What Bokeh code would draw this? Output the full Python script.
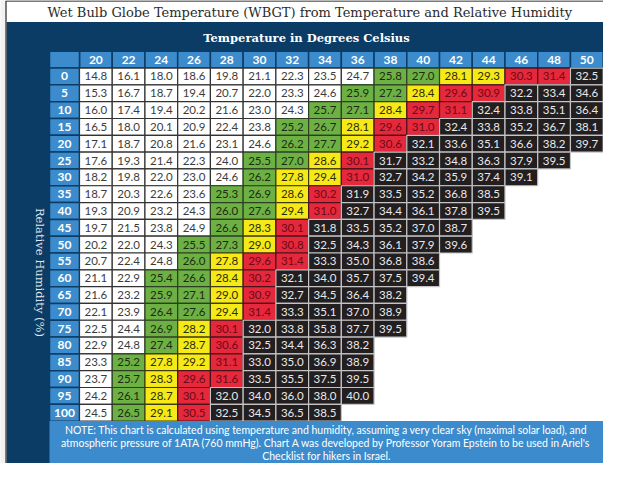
import math
from bokeh.plotting import figure
from bokeh.models import Range1d, ColumnDataSource
from bokeh.embed import file_html
from bokeh.resources import INLINE
from bokeh.core.properties import value

# ---------------- data ----------------
temperatures = [20, 22, 24, 26, 28, 30, 32, 34, 36, 38, 40, 42, 44, 46, 48, 50]
humidity = [0, 5, 10, 15, 20, 25, 30, 35, 40, 45, 50, 55, 60, 65, 70, 75, 80, 85, 90, 95, 100]

rh_0 = [14.8, 16.1, 18.0, 18.6, 19.8, 21.1, 22.3, 23.5, 24.7, 25.8, 27.0, 28.1, 29.3, 30.3, 31.4, 32.5]
rh_5 = [15.3, 16.7, 18.7, 19.4, 20.7, 22.0, 23.3, 24.6, 25.9, 27.2, 28.4, 29.6, 30.9, 32.2, 33.4, 34.6]
rh_10 = [16.0, 17.4, 19.4, 20.2, 21.6, 23.0, 24.3, 25.7, 27.1, 28.4, 29.7, 31.1, 32.4, 33.8, 35.1, 36.4]
rh_15 = [16.5, 18.0, 20.1, 20.9, 22.4, 23.8, 25.2, 26.7, 28.1, 29.6, 31.0, 32.4, 33.8, 35.2, 36.7, 38.1]
rh_20 = [17.1, 18.7, 20.8, 21.6, 23.1, 24.6, 26.2, 27.7, 29.2, 30.6, 32.1, 33.6, 35.1, 36.6, 38.2, 39.7]
rh_25 = [17.6, 19.3, 21.4, 22.3, 24.0, 25.5, 27.0, 28.6, 30.1, 31.7, 33.2, 34.8, 36.3, 37.9, 39.5]
rh_30 = [18.2, 19.8, 22.0, 23.0, 24.6, 26.2, 27.8, 29.4, 31.0, 32.7, 34.2, 35.9, 37.4, 39.1]
rh_35 = [18.7, 20.3, 22.6, 23.6, 25.3, 26.9, 28.6, 30.2, 31.9, 33.5, 35.2, 36.8, 38.5]
rh_40 = [19.3, 20.9, 23.2, 24.3, 26.0, 27.6, 29.4, 31.0, 32.7, 34.4, 36.1, 37.8, 39.5]
rh_45 = [19.7, 21.5, 23.8, 24.9, 26.6, 28.3, 30.1, 31.8, 33.5, 35.2, 37.0, 38.7]
rh_50 = [20.2, 22.0, 24.3, 25.5, 27.3, 29.0, 30.8, 32.5, 34.3, 36.1, 37.9, 39.6]
rh_55 = [20.7, 22.4, 24.8, 26.0, 27.8, 29.6, 31.4, 33.3, 35.0, 36.8, 38.6]
rh_60 = [21.1, 22.9, 25.4, 26.6, 28.4, 30.2, 32.1, 34.0, 35.7, 37.5, 39.4]
rh_65 = [21.6, 23.2, 25.9, 27.1, 29.0, 30.9, 32.7, 34.5, 36.4, 38.2]
rh_70 = [22.1, 23.9, 26.4, 27.6, 29.4, 31.4, 33.3, 35.1, 37.0, 38.9]
rh_75 = [22.5, 24.4, 26.9, 28.2, 30.1, 32.0, 33.8, 35.8, 37.7, 39.5]
rh_80 = [22.9, 24.8, 27.4, 28.7, 30.6, 32.5, 34.4, 36.3, 38.2]
rh_85 = [23.3, 25.2, 27.8, 29.2, 31.1, 33.0, 35.0, 36.9, 38.9]
rh_90 = [23.7, 25.7, 28.3, 29.6, 31.6, 33.5, 35.5, 37.5, 39.5]
rh_95 = [24.2, 26.1, 28.7, 30.1, 32.0, 34.0, 36.0, 38.0, 40.0]
rh_100 = [24.5, 26.5, 29.1, 30.5, 32.5, 34.5, 36.5, 38.5]

wbgt_rows = [rh_0, rh_5, rh_10, rh_15, rh_20, rh_25, rh_30, rh_35, rh_40, rh_45,
             rh_50, rh_55, rh_60, rh_65, rh_70, rh_75, rh_80, rh_85, rh_90, rh_95, rh_100]

title_text = "Wet Bulb Globe Temperature (WBGT) from Temperature and Relative Humidity"
subtitle_text = "Temperature in Degrees Celsius"
ylabel_text = "Relative Humidity (%)"
note_lines = [
    "NOTE: This chart is calculated using temperature and humidity, assuming a very clear sky (maximal solar load), and",
    "atmospheric pressure of 1ATA (760 mmHg). Chart A was developed by Professor Yoram Epstein to be used in Ariel's",
    "Checklist for hikers in Israel.",
]

# colour classes (WBGT thresholds)
class_edges = [25.0, 27.8, 29.6, 31.7]
fills = ["#ffffff", "#6db144", "#f5ea17", "#e5283c", "#231f20"]
text_cols = ["#3c3c3c", "#1d2a14", "#2e2b06", "#6a0b16", "#e9e9e9"]
line_cols = ["#333333", "#2d3f22", "#3f3b12", "#4b1219", "#c4c4c4"]

NAVY = "#0b3c66"
BLUE = "#3c8bcc"

def wclass(v):
    k = 0
    for e in class_edges:
        if v >= e:
            k += 1
    return k

# ---------------- figure ----------------
p = figure(width=603, height=463, x_range=Range1d(16, 619), y_range=Range1d(479, 4),
           output_backend="svg", toolbar_location=None, min_border=0,
           x_axis_location=None, y_axis_location=None,
           background_fill_color="#f2f2f2", border_fill_color="#f2f2f2",
           outline_line_color=None)
p.grid.visible = False

# temperature / humidity scales for the table
px_per_deg = 32.73 / 2.0
px_per_pct = 17.25 / 5.0
p.extra_x_ranges = {"temp": Range1d(19 - (95 - 16) / px_per_deg, 19 + (619 - 95) / px_per_deg)}
p.extra_y_ranges = {"rh": Range1d(102.5 + (479 - 435.55) / px_per_pct, -2.5 - (73.3 - 4) / px_per_pct)}
T = dict(x_range_name="temp", y_range_name="rh")

# panels
p.quad(left=[22], right=[619], top=[26], bottom=[479], fill_color=NAVY, line_color=None)
p.quad(left=[22], right=[619], top=[4.5], bottom=[26], fill_color="white", line_color=None)
p.line(x=[21.5, 21.5, 619], y=[479, 4.5, 4.5], line_color="#505050", line_width=1.5)

# table body background
p.quad(left=[19], right=[51], top=[-2.5], bottom=[102.5], fill_color="white", line_color=None, **T)

step_t = temperatures[1] - temperatures[0]
step_h = humidity[1] - humidity[0]
lab_w = 30 / px_per_deg
lab_x = temperatures[0] - step_t / 2 - lab_w / 2

# header cells
p.rect(x=temperatures, y=[humidity[0] - step_h] * len(temperatures), width=step_t, height=step_h,
       fill_color=BLUE, line_color=NAVY, line_width=1.5, **T)
p.rect(x=[lab_x], y=[humidity[0] - step_h], width=lab_w, height=step_h,
       fill_color=BLUE, line_color=NAVY, line_width=1.5, **T)
p.rect(x=[lab_x] * len(humidity), y=humidity, width=lab_w, height=step_h,
       fill_color=BLUE, line_color=NAVY, line_width=1.5, **T)

# data cells
xs, ys, vals, fc, tc, lc, cls = [], [], [], [], [], [], []
for h, row in zip(humidity, wbgt_rows):
    for t, v in zip(temperatures, row):
        k = wclass(v)
        xs.append(t); ys.append(h); vals.append(f"{v:.1f}")
        fc.append(fills[k]); tc.append(text_cols[k]); lc.append(line_cols[k]); cls.append(k)

for group in ([0, 1, 2, 3], [4]):
    idx = [i for i in range(len(xs)) if cls[i] in group]
    src = ColumnDataSource(dict(x=[xs[i] for i in idx], y=[ys[i] for i in idx],
                                v=[vals[i] for i in idx], fc=[fc[i] for i in idx],
                                tc=[tc[i] for i in idx], lc=[lc[i] for i in idx]))
    p.rect(x="x", y="y", width=step_t, height=step_h, fill_color="fc", line_color="lc",
           line_width=1.2, source=src, **T)
    p.text(x="x", y="y", text="v", text_color="tc", text_font=value("Lato"),
           text_font_size="11.5px", text_align="center", text_baseline="middle",
           source=src, **T)

# header labels
p.text(x=temperatures, y=[humidity[0] - step_h] * len(temperatures), text=[str(t) for t in temperatures],
       text_color="white", text_font=value("Lato"), text_font_style="bold", text_font_size="12px",
       text_align="center", text_baseline="middle", **T)
p.text(x=[lab_x] * len(humidity), y=humidity, text=[str(h) for h in humidity],
       text_color="white", text_font=value("Lato"), text_font_style="bold", text_font_size="12px",
       text_align="center", text_baseline="middle", **T)

# note box
p.quad(left=[65], right=[619], top=[435.5], bottom=[479], fill_color=BLUE, line_color=None)
p.text(x=[342, 342, 342], y=[445, 458, 471.5], text=note_lines, text_color="white",
       text_font=value("Lato"), text_font_size="10.5px", text_align="center", text_baseline="middle")

# titles
p.text(x=[63], y=[16.5], text=[title_text], text_color="#2b2b2b", text_font=value("DejaVu Serif"),
       text_font_size="13px", text_align="left", text_baseline="middle")
p.text(x=[322], y=[42], text=[subtitle_text], text_color="white", text_font=value("DejaVu Serif"),
       text_font_style="bold", text_font_size="11.5px", text_align="center", text_baseline="middle")
p.text(x=[55], y=[283], text=[ylabel_text], text_color="#dfe6ee", text_font=value("DejaVu Serif"),
       text_font_size="11.5px", text_align="center", text_baseline="middle", angle=-math.pi / 2)

open("out.html", "w").write(file_html(p, INLINE))
